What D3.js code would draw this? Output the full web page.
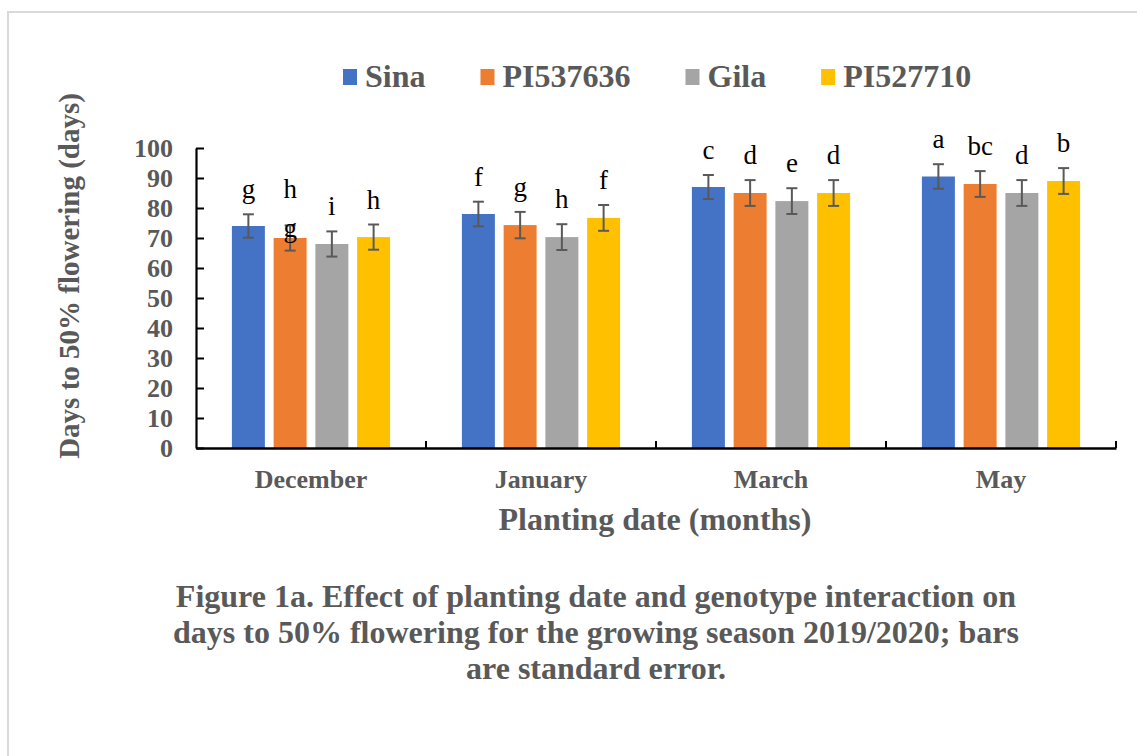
<!DOCTYPE html>
<html>
<head>
<meta charset="utf-8">
<script src="https://cdn.jsdelivr.net/npm/d3@7/dist/d3.min.js"></script>
<style>
  html, body { margin: 0; padding: 0; background: #fff; }
  svg { display: block; }
  text { font-family: "Liberation Serif", "Times New Roman", serif; }
</style>
</head>
<body>
<svg id="chart" width="1137" height="756"></svg>
<script>
// Planting months (x categories)
const months = ["December", "January", "March", "May"];
// Genotypes (series)
const genotypes = ["Sina", "PI537636", "Gila", "PI527710"];
const colors = ["#4472C4", "#ED7D31", "#A5A5A5", "#FFC000"];

// Days to 50% flowering, one array per genotype, ordered as months
const sina     = [74, 78, 87, 90.5];
const pi537636 = [70, 74.3, 85, 88];
const gila     = [68, 70.3, 82.3, 85];
const pi527710 = [70.3, 76.7, 85, 89];

// Standard errors
const seSina     = [3.9, 4.1, 4.0, 4.1];
const sePi537636 = [4.2, 4.4, 4.3, 4.3];
const seGila     = [4.2, 4.3, 4.3, 4.3];
const sePi527710 = [4.2, 4.3, 4.3, 4.3];

// Mean separation letters ("\n" starts a second line)
const lettersSina     = ["g", "f", "c", "a"];
const lettersPi537636 = ["h\ng", "g", "d", "bc"];
const lettersGila     = ["i", "h", "e", "d"];
const lettersPi527710 = ["h", "f", "d", "b"];

const yTicks = [0, 10, 20, 30, 40, 50, 60, 70, 80, 90, 100];

const captionLines = [
  "Figure 1a. Effect of planting date and genotype interaction on",
  "days to 50% flowering for the growing season 2019/2020; bars",
  "are standard error."
];

const values  = [sina, pi537636, gila, pi527710];
const errors  = [seSina, sePi537636, seGila, sePi527710];
const letters = [lettersSina, lettersPi537636, lettersGila, lettersPi527710];

const rows = [];
genotypes.forEach((g, gi) => {
  months.forEach((m, mi) => {
    rows.push({ genotype: g, gi, month: m, value: values[gi][mi], se: errors[gi][mi], letter: letters[gi][mi] });
  });
});

const svg = d3.select("#chart");
const textGray = "#595959";

// Chart frame
svg.append("rect")
  .attr("x", 8).attr("y", 12)
  .attr("width", 1160).attr("height", 780)
  .attr("fill", "none")
  .attr("stroke", "#d9d9d9")
  .attr("stroke-width", 2);

const plot = { left: 196, right: 1116, top: 148, bottom: 448 };

const x0 = d3.scaleBand().domain(months).range([plot.left, plot.right]).padding(0);
const x1 = d3.scaleBand().domain(genotypes).range([0, x0.bandwidth()])
  .paddingInner(0.21).paddingOuter(0.86);
const y = d3.scaleLinear().domain([0, 100]).range([plot.bottom, plot.top]);
const color = d3.scaleOrdinal().domain(genotypes).range(colors);

// Bars
svg.append("g").selectAll("rect")
  .data(rows)
  .join("rect")
  .attr("x", d => x0(d.month) + x1(d.genotype))
  .attr("y", d => y(d.value))
  .attr("width", x1.bandwidth())
  .attr("height", d => y(0) - y(d.value))
  .attr("fill", d => color(d.genotype));

// Error bars
const capHalf = 5.5;
const eb = svg.append("g")
  .attr("stroke", "#595959")
  .attr("stroke-width", 2);
rows.forEach(d => {
  const cx = x0(d.month) + x1(d.genotype) + x1.bandwidth() / 2;
  const yHi = y(d.value + d.se), yLo = y(d.value - d.se);
  eb.append("line").attr("x1", cx).attr("x2", cx).attr("y1", yHi).attr("y2", yLo);
  eb.append("line").attr("x1", cx - capHalf).attr("x2", cx + capHalf).attr("y1", yHi).attr("y2", yHi);
  eb.append("line").attr("x1", cx - capHalf).attr("x2", cx + capHalf).attr("y1", yLo).attr("y2", yLo);
});

// Letters above the error bars
const letterG = svg.append("g")
  .attr("font-size", 27)
  .attr("fill", "#000")
  .attr("text-anchor", "middle");
rows.forEach(d => {
  const cx = x0(d.month) + x1(d.genotype) + x1.bandwidth() / 2;
  const parts = d.letter.split("\n");
  if (parts.length === 1) {
    letterG.append("text").attr("x", cx).attr("y", y(d.value + d.se) - 16).text(parts[0]);
  } else {
    // first line sits high, second line rests on the bar top
    const base = y(d.value) - 1;
    parts.forEach((p, i) => {
      letterG.append("text").attr("x", cx)
        .attr("y", base - (parts.length - 1 - i) * 39)
        .text(p);
    });
  }
});

// Y axis
const yAxis = d3.axisLeft(y).tickValues(yTicks).tickSizeInner(-8).tickSizeOuter(0).tickPadding(23);
const yg = svg.append("g").attr("transform", `translate(${plot.left},0)`).call(yAxis);
yg.select(".domain").attr("stroke", "#000").attr("stroke-width", 2.2);
yg.selectAll(".tick line").attr("stroke", "#000").attr("stroke-width", 2);
yg.selectAll(".tick text")
  .attr("font-family", "Liberation Serif, serif")
  .attr("font-size", 26).attr("font-weight", "bold").attr("fill", textGray)
  .attr("dy", "0.34em");

// X axis: baseline, category separators, labels
const xAxis = d3.axisBottom(x0).tickSize(0).tickPadding(22);
const xg = svg.append("g").attr("transform", `translate(0,${plot.bottom})`).call(xAxis);
xg.select(".domain").attr("stroke", "#000").attr("stroke-width", 2.5);
xg.selectAll(".tick text")
  .attr("font-family", "Liberation Serif, serif")
  .attr("font-size", 26).attr("font-weight", "bold").attr("fill", textGray)
  .attr("dy", "0.71em");
const bounds = months.map(m => x0(m)).concat([x0(months[months.length - 1]) + x0.bandwidth()]);
xg.selectAll("line.sep")
  .data(bounds.slice(1))
  .join("line")
  .attr("class", "sep")
  .attr("x1", d => d).attr("x2", d => d)
  .attr("y1", 0).attr("y2", -7)
  .attr("stroke", "#000").attr("stroke-width", 2);

// Axis titles
svg.append("text")
  .attr("x", (plot.left + plot.right) / 2 - 1)
  .attr("y", 530)
  .attr("text-anchor", "middle")
  .attr("font-size", 32).attr("font-weight", "bold").attr("fill", textGray)
  .text("Planting date (months)");

svg.append("text")
  .attr("transform", "translate(79,276) rotate(-90)")
  .attr("text-anchor", "middle")
  .attr("font-size", 29).attr("font-weight", "bold").attr("fill", textGray)
  .text("Days to 50% flowering (days)");

// Legend
const legend = svg.append("g").attr("font-size", 32).attr("font-weight", "bold").attr("fill", textGray);
let lx = 343;
genotypes.forEach((g, i) => {
  legend.append("rect").attr("x", lx).attr("y", 69).attr("width", 14).attr("height", 16).attr("fill", color(g));
  const t = legend.append("text").attr("x", lx + 22).attr("y", 87).text(g);
  lx += 22 + t.node().getComputedTextLength() + 55;
});

// Caption
const cap = svg.append("g")
  .attr("font-size", 32).attr("font-weight", "bold").attr("fill", textGray)
  .attr("text-anchor", "middle");
captionLines.forEach((line, i) => {
  cap.append("text").attr("x", 596).attr("y", 607 + i * 36).text(line);
});
</script>
</body>
</html>
